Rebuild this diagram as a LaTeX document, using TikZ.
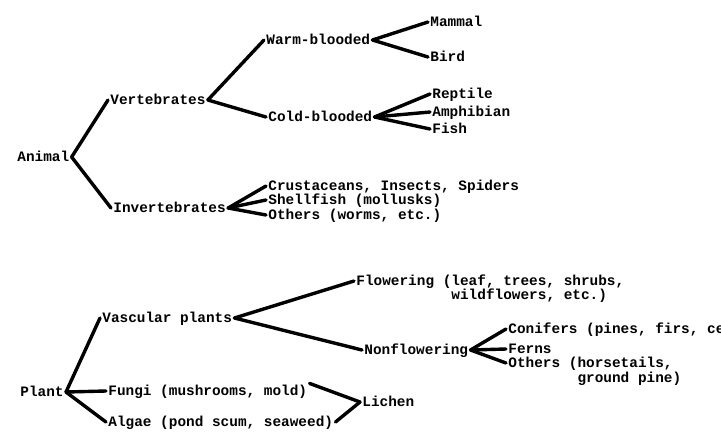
\documentclass[tikz,border=0pt]{standalone}
\usepackage{fontspec}
\setmonofont{Liberation Mono}
\usepackage{tikz}
\usetikzlibrary{positioning}
\tikzstyle{word} = [font=\ttfamily\bfseries\fontsize{7.2}{8}\selectfont,
    inner sep=1pt,anchor=west,text height=4.6pt,text depth=0.6pt]
\tikzstyle{link} = [line width=1.7pt,line cap=round]

\begin{document}
\begin{tikzpicture}[x=0.5pt,y=-0.5pt]
	\useasboundingbox (0,0) rectangle (721,434);
	\clip (0,0) rectangle (721,434);

	% animals
	\node(animal) at (15,157) [word] {Animal};
	\node(vert) at (108,100) [word] {Vertebrates};
	\node(invert) at (111,208) [word] {Invertebrates};

	\node(warm) at (264,40) [word] {Warm-blooded};
	\node(cold) at (266,117) [word] {Cold-blooded};

	\node(mammal) at (428,22) [word] {Mammal};
	\node(bird) at (428,57) [word] {Bird};
	\node(reptile) at (430,94) [word] {Reptile};
	\node(amphib) at (430,112) [word] {Amphibian};
	\node(fish) at (430,129) [word] {Fish};

	\node(crust) at (266,186) [word] {Crustaceans, Insects, Spiders};
	\node(shell) at (266,200) [word] {Shellfish (mollusks)};
	\node(worms) at (266,215) [word] {Others (worms, etc.)};

	\draw[link] (animal.east) -- (vert.west);
	\draw[link] (animal.east) -- (invert.west);
	\draw[link] (vert.east) -- (warm.west);
	\draw[link] (vert.east) -- (cold.west);
	\foreach \k in {mammal,bird}
		\draw[link] (warm.east) -- (\k.west);
	\foreach \k in {reptile,amphib,fish}
		\draw[link] (cold.east) -- (\k.west);
	\foreach \k in {crust,shell,worms}
		\draw[link] (invert.east) -- (\k.west);

	% plants
	\node(plant) at (18,392) [word] {Plant};
	\node(vasc) at (100,318) [word] {Vascular plants};
	\node(fungi) at (106,391) [word] {Fungi (mushrooms, mold)};
	\node(algae) at (106,422) [word] {Algae (pond scum, seaweed)};
	\node(lichen) at (360,402) [word] {Lichen};

	\node(flower) at (354,281) [word] {Flowering (leaf, trees, shrubs,};
	\node(flowerb) at ([yshift=-7pt]flower.west) [word] {\phantom{Flowering (}wildflowers, etc.)};
	\node(nonflower) at (362,350) [word] {Nonflowering};

	\node(conifer) at (506,329) [word] {Conifers (pines, firs, cedars)};
	\node(fern) at (506,349) [word] {Ferns};
	\node(horse) at (506,363) [word] {Others (horsetails,};
	\node(horseb) at ([yshift=-7.5pt]horse.west) [word] {\phantom{Others (}ground pine)};

	\draw[link] (plant.east) -- (vasc.west);
	\draw[link] (plant.east) -- (fungi.west);
	\draw[link] (plant.east) -- (algae.west);
	\draw[link] (vasc.east) -- (flower.west);
	\draw[link] (vasc.east) -- (nonflower.west);
	\foreach \k in {conifer,fern,horse}
		\draw[link] (nonflower.east) -- (\k.west);
	\draw[link] (fungi.north east) -- (lichen.west);
	\draw[link] (algae.east) -- (lichen.west);

\end{tikzpicture}
\end{document}
